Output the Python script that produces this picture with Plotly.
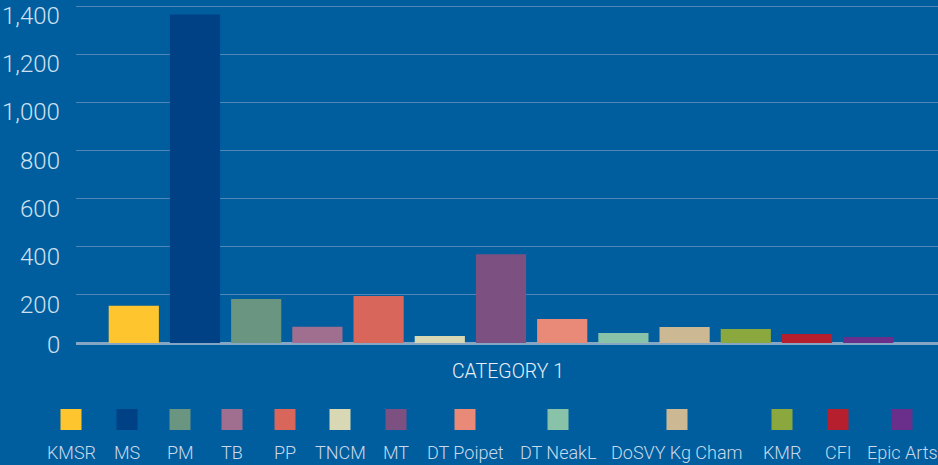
import plotly.graph_objects as go

# data
category = ["CATEGORY 1"]
names = ["KMSR", "MS", "PM", "TB", "PP", "TNCM", "MT", "DT Poipet",
         "DT NeakL", "DoSVY Kg Cham", "KMR", "CFI", "Epic Arts"]
values = [155, 1366, 183, 68, 195, 29, 369, 100, 42, 66, 58, 37, 25]
colors = ["#FFC52F", "#004186", "#6A9580", "#A06E8E", "#D9665B", "#D8D8B4",
          "#7C5080", "#E98A78", "#88C2A8", "#CCB994", "#8AA83E", "#B51F2E",
          "#6A2F8A"]
yticks = [0, 200, 400, 600, 800, 1000, 1200, 1400]

W, H = 938, 465
left, right, top, bottom = 76, 0, 5, 122
pw, ph = W - left - right, H - top - bottom

bg = "#005E9F"
font_fam = "Roboto, Lato, sans-serif"

fig = go.Figure()
for n, v, c in zip(names, values, colors):
    fig.add_trace(go.Bar(x=category, y=[v], name=n, marker=dict(color=c, line=dict(width=0))))

# custom legend: square above label
legend_x = [71, 127, 180, 232, 285, 340, 396, 465, 558, 677, 782, 838, 902]

def px2paper(px, py):
    return (px - left) / pw, (H - bottom - py) / ph

shapes = []
annotations = []
for lx, n, c in zip(legend_x, names, colors):
    x0, y0 = px2paper(lx - 10.5, 430)
    x1, y1 = px2paper(lx + 10.5, 409)
    shapes.append(dict(type="rect", xref="paper", yref="paper", x0=x0, x1=x1, y0=y0, y1=y1,
                       fillcolor=c, line=dict(width=0)))
    ax, ay = px2paper(lx, 452)
    annotations.append(dict(text=n, xref="paper", yref="paper", x=ax, y=ay,
                            xanchor="center", yanchor="middle", showarrow=False,
                            font=dict(family=font_fam, size=18, weight=300, color="#C9D9EA")))

# y tick labels (sit a little below their gridlines, as in the original)
for v in yticks:
    annotations.append(dict(text=f"{v:,}", xref="paper", yref="y", x=0, y=v,
                            xanchor="right", yanchor="middle", xshift=-14,
                            yshift=-2 if v == 0 else -10, showarrow=False,
                            font=dict(family=font_fam, size=24, weight=300, color="#CFE0F0")))

fig.update_layout(
    width=W, height=H,
    margin=dict(l=left, r=right, t=top, b=bottom),
    paper_bgcolor=bg, plot_bgcolor=bg,
    barmode="group", bargap=0.077, bargroupgap=0.18,
    showlegend=False,
    shapes=shapes, annotations=annotations,
    font=dict(family=font_fam),
)
shift = 6 / pw
fig.update_xaxes(range=[-0.5 + shift, 0.5 + shift], showgrid=False, showline=False, ticks="",
                 ticklabelstandoff=14, ticklabelshift=7,
                 tickfont=dict(size=19.5, color="#E8EEF6", family=font_fam, weight=300))
fig.update_yaxes(range=[0, 1405], tickvals=yticks, showticklabels=False,
                 showgrid=True, gridcolor="#4E86B9", gridwidth=1,
                 zeroline=True, zerolinecolor="#86A6C6", zerolinewidth=2.5, ticks="")

fig.write_html("out.html", config={"displayModeBar": False},
               post_script="document.body.style.margin='0';document.body.style.overflow='hidden';")
